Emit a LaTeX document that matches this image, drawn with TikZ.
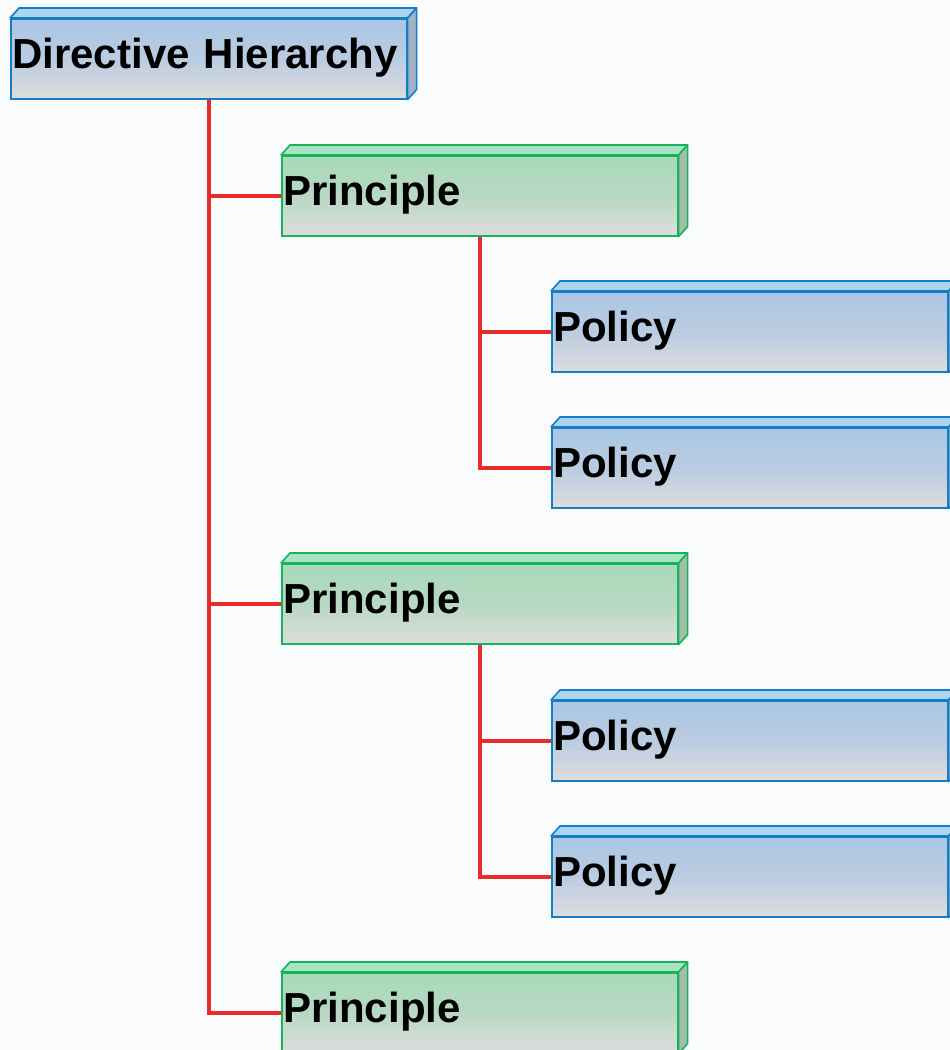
\documentclass[tikz,border=0pt]{standalone}
\usepackage{fontspec}
\setmainfont{Liberation Sans}
\usetikzlibrary{backgrounds}
\definecolor{bgc}{RGB}{250,251,253}
\definecolor{bluetop}{RGB}{170,199,228}
\definecolor{bluemid}{RGB}{186,204,225}
\definecolor{boxbot}{RGB}{221,221,221}
\definecolor{blueedge}{RGB}{20,125,200}
\definecolor{bluelid}{RGB}{172,212,236}
\definecolor{blueside}{RGB}{160,178,196}
\definecolor{greentop}{RGB}{168,218,186}
\definecolor{greenmid}{RGB}{184,216,194}
\definecolor{greenedge}{RGB}{20,180,90}
\definecolor{greenlid}{RGB}{170,226,196}
\definecolor{greenside}{RGB}{166,188,170}
\definecolor{linkred}{RGB}{232,42,42}
\tikzset{
  basebox/.style={rectangle, line width=1.6pt, minimum height=80pt, inner ysep=0pt,
    inner xsep=1.5pt, text width=393pt, align=left, text height=30pt, text depth=10pt,
    font=\fontsize{42}{50}\selectfont\bfseries, anchor=north west},
  bluebox/.style={basebox, draw=blueedge, top color=bluetop, bottom color=boxbot, middle color=bluemid},
  greenbox/.style={basebox, draw=greenedge, top color=greentop, bottom color=boxbot, middle color=greenmid},
  blueedge/.style={draw=blueedge, line width=1.6pt, line join=round},
  greenedge/.style={draw=greenedge, line width=1.6pt, line join=round},
  link/.style={draw=linkred, line width=4pt},
}
\newcommand\cuboid[4]{%
  \node[#4box] (#1) at (#2) {#3};
  \path[#4edge, fill=#4lid] (#1.north west) -- ++(9,-10) -- ([shift={(9,-10)}]#1.north east) -- (#1.north east) -- cycle;
  \path[#4edge, fill=#4side] (#1.north east) -- ++(9,-10) -- ([shift={(9,-10)}]#1.south east) -- (#1.south east) -- cycle;
}
\begin{document}
\begin{tikzpicture}[x=1pt,y=-1pt]
\useasboundingbox (0,0) rectangle (950,1050);
\cuboid{dh}{10,18}{Directive Hierarchy}{blue}
\cuboid{p1}{281,155}{Principle}{green}
\cuboid{q1}{551,291}{Policy}{blue}
\cuboid{q2}{551,427}{Policy}{blue}
\cuboid{p2}{281,563}{Principle}{green}
\cuboid{q3}{551,700}{Policy}{blue}
\cuboid{q4}{551,836}{Policy}{blue}
\cuboid{p3}{281,972}{Principle}{green}
\begin{scope}[on background layer]
\fill[bgc] (0,0) rectangle (950,1050);
\draw[link] (dh.south) |- (p1.west);
\draw[link] (dh.south) |- (p2.west);
\draw[link] (dh.south) |- (p3.west);
\draw[link] (p1.south) |- (q1.west);
\draw[link] (p1.south) |- (q2.west);
\draw[link] (p2.south) |- (q3.west);
\draw[link] (p2.south) |- (q4.west);
\end{scope}
\end{tikzpicture}
\end{document}
